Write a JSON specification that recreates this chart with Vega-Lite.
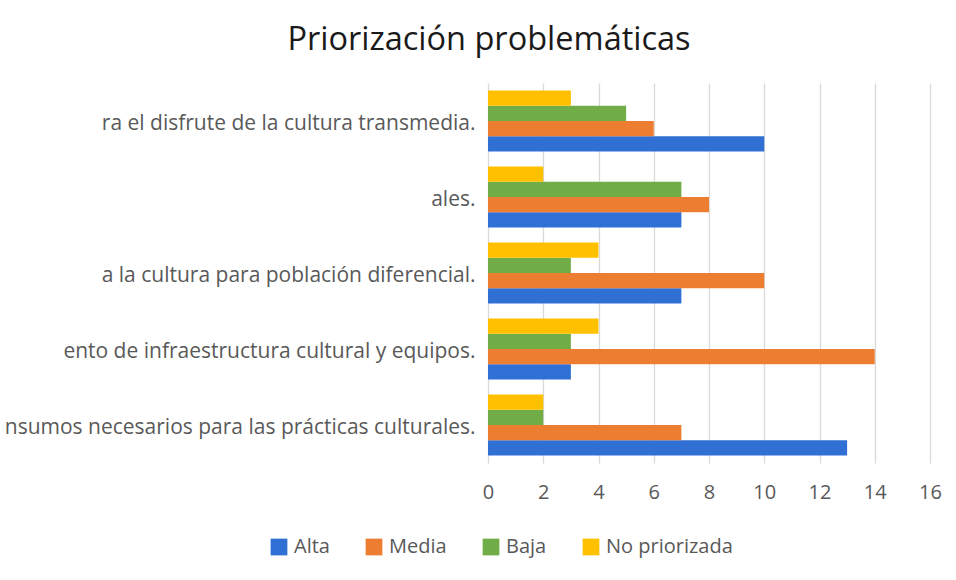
{
  "$schema": "https://vega.github.io/schema/vega-lite/v6.json",
  "width": 442,
  "height": 380,
  "autosize": {"type": "none"},
  "padding": {"left": 488, "top": 83, "right": 26, "bottom": 117},
  "background": "white",
  "title": {
    "text": "Priorización problemáticas",
    "fontSize": 32.5,
    "font": "Open Sans",
    "fontWeight": "normal",
    "color": "#1a1a1a",
    "anchor": "middle",
    "dx": -220,
    "offset": 27
  },
  "data": {
    "values": [
      {"categoria": "ra el disfrute de la cultura transmedia.", "prioridad": "Alta", "valor": 10},
      {"categoria": "ra el disfrute de la cultura transmedia.", "prioridad": "Media", "valor": 6},
      {"categoria": "ra el disfrute de la cultura transmedia.", "prioridad": "Baja", "valor": 5},
      {"categoria": "ra el disfrute de la cultura transmedia.", "prioridad": "No priorizada", "valor": 3},
      {"categoria": "ales.", "prioridad": "Alta", "valor": 7},
      {"categoria": "ales.", "prioridad": "Media", "valor": 8},
      {"categoria": "ales.", "prioridad": "Baja", "valor": 7},
      {"categoria": "ales.", "prioridad": "No priorizada", "valor": 2},
      {"categoria": "a la cultura para población diferencial.", "prioridad": "Alta", "valor": 7},
      {"categoria": "a la cultura para población diferencial.", "prioridad": "Media", "valor": 10},
      {"categoria": "a la cultura para población diferencial.", "prioridad": "Baja", "valor": 3},
      {"categoria": "a la cultura para población diferencial.", "prioridad": "No priorizada", "valor": 4},
      {"categoria": "ento de infraestructura cultural y equipos.", "prioridad": "Alta", "valor": 3},
      {"categoria": "ento de infraestructura cultural y equipos.", "prioridad": "Media", "valor": 14},
      {"categoria": "ento de infraestructura cultural y equipos.", "prioridad": "Baja", "valor": 3},
      {"categoria": "ento de infraestructura cultural y equipos.", "prioridad": "No priorizada", "valor": 4},
      {"categoria": "nsumos necesarios para las prácticas culturales.", "prioridad": "Alta", "valor": 13},
      {"categoria": "nsumos necesarios para las prácticas culturales.", "prioridad": "Media", "valor": 7},
      {"categoria": "nsumos necesarios para las prácticas culturales.", "prioridad": "Baja", "valor": 2},
      {"categoria": "nsumos necesarios para las prácticas culturales.", "prioridad": "No priorizada", "valor": 2}
    ]
  },
  "mark": {"type": "bar"},
  "encoding": {
    "y": {
      "field": "categoria",
      "type": "nominal",
      "sort": null,
      "scale": {"paddingInner": 0.2, "paddingOuter": 0.1},
      "axis": {
        "title": null,
        "domain": false,
        "ticks": false,
        "labelPadding": 13,
        "labelOffset": 3,
        "labelFontSize": 21,
        "labelFont": "Open Sans",
        "labelColor": "#595959",
        "labelLimit": 0
      }
    },
    "yOffset": {
      "field": "prioridad",
      "type": "nominal",
      "scale": {"domain": ["No priorizada", "Baja", "Media", "Alta"], "paddingInner": 0, "paddingOuter": 0}
    },
    "x": {
      "field": "valor",
      "type": "quantitative",
      "scale": {"domain": [0, 16], "nice": false},
      "axis": {
        "title": null,
        "values": [0, 2, 4, 6, 8, 10, 12, 14, 16],
        "grid": true,
        "gridColor": "#d9d9d9",
        "gridWidth": 1.3,
        "domain": false,
        "ticks": false,
        "labelFlush": false,
        "labelPadding": 19,
        "labelFontSize": 20,
        "labelFont": "Open Sans",
        "labelColor": "#595959"
      }
    },
    "color": {
      "field": "prioridad",
      "type": "nominal",
      "scale": {
        "domain": ["Alta", "Media", "Baja", "No priorizada"],
        "range": ["#306FD3", "#ED7D31", "#70AD47", "#FFC000"]
      },
      "legend": {
        "title": null,
        "orient": "none",
        "direction": "horizontal",
        "legendX": -219,
        "legendY": 454,
        "padding": 0,
        "symbolType": "square",
        "symbolSize": 280,
        "symbolStrokeWidth": 0,
        "labelFontSize": 20,
        "labelFont": "Open Sans",
        "labelColor": "#595959",
        "labelOffset": 5,
        "columnPadding": 34
      }
    }
  },
  "config": {
    "view": {"stroke": null}
  }
}
